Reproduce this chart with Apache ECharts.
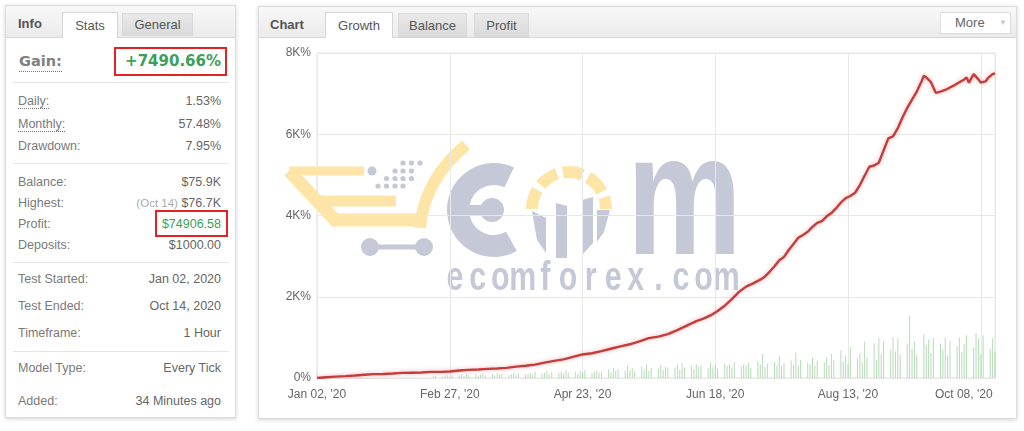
<!DOCTYPE html>
<html>
<head>
<meta charset="utf-8">
<script src="https://cdn.jsdelivr.net/npm/echarts@6/dist/echarts.min.js"></script>
<style>
  html,body{margin:0;padding:0;background:#fff;width:1024px;height:431px;overflow:hidden;font-family:"Liberation Sans",Arial,sans-serif;}
  .abs{position:absolute;}
  .panel{position:absolute;border:1px solid #dcdcdc;background:#fff;box-shadow:0 1px 4px rgba(0,0,0,0.18);box-sizing:border-box;}
  .hdr{position:absolute;background:linear-gradient(#f8f8f8,#ebebeb);border-bottom:1px solid #d6d6d6;box-sizing:border-box;}
  .tab{position:absolute;box-sizing:border-box;text-align:center;font-size:13px;color:#555;}
  .tab.on{background:#fff;border:1px solid #d6d6d6;border-bottom:none;}
  .tab.off{background:linear-gradient(#e9e9e9,#dadada);border:1px solid #d9d9d9;}
  .ttl{position:absolute;font-weight:bold;font-size:13px;color:#555;}
  .lbl{position:absolute;left:18px;font-size:12.5px;color:#7a7a7a;line-height:16px;}
  .val{position:absolute;right:803px;font-size:12.5px;color:#666;line-height:16px;text-align:right;white-space:nowrap;}
  .dot{border-bottom:1px dotted #777;}
  .sep{position:absolute;left:13px;width:216px;height:1px;background:#e6e6e6;}
  #chart{position:absolute;left:0;top:0;width:1024px;height:431px;}
</style>
</head>
<body>
<!-- left info panel -->
<div class="panel" style="left:5px;top:5px;width:231px;height:413px;"></div>
<div class="hdr" style="left:6px;top:6px;width:229px;height:32px;"></div>
<div class="ttl" style="left:18px;top:16px;">Info</div>
<div class="tab on" style="left:62px;top:12px;width:56px;height:26px;line-height:25px;">Stats</div>
<div class="tab off" style="left:122px;top:13px;width:71px;height:23px;line-height:22px;">General</div>

<div class="abs" style="left:19px;top:52px;font-family:'DejaVu Sans',sans-serif;font-size:14.5px;font-weight:bold;color:#808080;line-height:18px;"><span class="dot" style="padding-bottom:2px;">Gain:</span></div>
<div class="abs" style="left:114px;top:47px;width:113px;height:29px;border:2px solid #e32222;box-sizing:border-box;"></div>
<div class="abs" style="right:803px;top:52px;font-family:'DejaVu Sans',sans-serif;font-size:15px;font-weight:bold;color:#3c9f5c;line-height:18px;">+7490.66%</div>
<div class="sep" style="top:82px;"></div>

<div class="lbl" style="top:93px;"><span class="dot">Daily:</span></div><div class="val" style="top:93px;">1.53%</div>
<div class="lbl" style="top:116px;"><span class="dot">Monthly:</span></div><div class="val" style="top:116px;">57.48%</div>
<div class="lbl" style="top:138px;">Drawdown:</div><div class="val" style="top:138px;">7.95%</div>
<div class="sep" style="top:163px;"></div>

<div class="lbl" style="top:174px;">Balance:</div><div class="val" style="top:174px;">$75.9K</div>
<div class="lbl" style="top:195px;">Highest:</div><div class="val" style="top:195px;"><span style="color:#aaa;font-size:11.5px;">(Oct 14)</span> $76.7K</div>
<div class="lbl" style="top:216px;">Profit:</div>
<div class="abs" style="left:155px;top:210px;width:73px;height:27px;border:2px solid #e32222;box-sizing:border-box;"></div>
<div class="val" style="top:216px;color:#3c9f5c;">$74906.58</div>
<div class="lbl" style="top:237px;">Deposits:</div><div class="val" style="top:237px;">$1000.00</div>
<div class="sep" style="top:262px;"></div>

<div class="lbl" style="top:271px;">Test Started:</div><div class="val" style="top:271px;">Jan 02, 2020</div>
<div class="lbl" style="top:298px;">Test Ended:</div><div class="val" style="top:298px;">Oct 14, 2020</div>
<div class="lbl" style="top:325px;">Timeframe:</div><div class="val" style="top:325px;">1 Hour</div>
<div class="sep" style="top:351px;"></div>

<div class="lbl" style="top:360px;">Model Type:</div><div class="val" style="top:360px;">Every Tick</div>
<div class="lbl" style="top:393px;">Added:</div><div class="val" style="top:393px;">34 Minutes ago</div>

<!-- chart panel -->
<div class="panel" style="left:258px;top:6px;width:759px;height:413px;"></div>
<div class="hdr" style="left:259px;top:7px;width:757px;height:31px;"></div>
<div class="ttl" style="left:270px;top:17px;">Chart</div>
<div class="tab on" style="left:325px;top:12px;width:68px;height:26px;line-height:26px;">Growth</div>
<div class="tab off" style="left:398px;top:13px;width:69px;height:24px;line-height:23px;">Balance</div>
<div class="tab off" style="left:474px;top:13px;width:55px;height:24px;line-height:23px;">Profit</div>
<div class="abs" style="left:940px;top:12px;width:71px;height:22px;background:#fff;border:1px solid #dedede;box-sizing:border-box;font-size:13px;color:#666;line-height:20px;">
  <span style="position:absolute;left:14px;">More</span>
  <span style="position:absolute;left:58px;top:0px;font-size:8px;color:#c8c8c8;">&#9660;</span>
</div>

<div id="chart"></div>
<script>
// ---- data ----
const xTickLabels = ["Jan 02, '20", "Feb 27, '20", "Apr 23, '20", "Jun 18, '20", "Aug 13, '20", "Oct 08, '20"];
const yTickLabels = ["0%", "2K%", "4K%", "6K%", "8K%"];
// growth line: day offsets from Jan 02, 2020 and growth in %
const growthDays = [0,4,8,12,16,20,24,28,32,36,40,44,48,52,56,60,64,68,72,76,80,84,88,92,96,100,104,108,112,116,120,124,128,132,136,140,144,148,152,156,160,163,166,169,172,175,178,181,184,187,189,191,193,195,197,199,201,203,205,207,209,211,213,215,217,219,221,223,225,227,229,231,233,235,237,239,241,243,245,247,249,251,253,255,256,257,259,261,263,265,267,269,271,273,274,275,277,279,280,282,283,285,286];
const growthValues = [0,20,35,45,60,80,95,100,110,125,130,135,150,150,160,185,200,210,225,235,250,280,300,330,380,420,460,520,580,610,660,720,780,830,900,980,1020,1080,1180,1290,1400,1460,1540,1650,1780,1940,2120,2250,2330,2420,2500,2620,2750,2900,2980,3150,3300,3450,3520,3600,3720,3820,3860,3980,4060,4180,4320,4430,4480,4560,4750,4980,5200,5230,5300,5600,5900,5950,6150,6420,6650,6850,7050,7300,7440,7400,7280,7020,7050,7090,7150,7210,7280,7350,7400,7270,7480,7350,7270,7300,7380,7480,7500];
// daily profit bars (weekdays from Feb 20, 2020), scaled to the same axis
const barsFeb = [40,60,30,50,70,40,60];
const barsMar = [60,80,50,90,70,100,60,80,110,70,90,60,120,80,100,70,90,130,80,110,90,100];
const barsApr = [120,90,150,110,130,170,100,140,120,160,110,190,130,150,100,170,140,200,120,160,180,130];
const barsMay = [160,210,140,250,180,220,170,300,190,240,160,280,210,330,180,250,230,310,200,270,240];
const barsJun = [250,330,200,370,260,300,220,350,280,310,240,380,270,320,230,360,300,340,250,390,280,330];
const barsJul = [300,380,250,420,330,600,280,350,400,310,550,290,370,430,320,620,300,450,380,340,500,310,420];
const barsAug = [380,520,320,600,450,680,400,560,350,750,480,620,380,900,520,860,450,1000,600,900,700];
const barsSep = [1000,650,980,580,850,1520,720,900,560,1080,800,950,620,980,850,700,1000,550,920,780,1000,640];
const barsOct = [850,1050,760,1100,980,600,1050,720,980,650];
const barsStartDay = 49; // Feb 20, 2020 (Thursday)

// ---- build ----
const lineData = growthDays.map((d, i) => [d, growthValues[i]]);
const allBars = [].concat(barsFeb, barsMar, barsApr, barsMay, barsJun, barsJul, barsAug, barsSep, barsOct);
const barData = [];
{
  let day = barsStartDay, idx = 0;
  // Jan 02, 2020 was a Thursday -> weekday index (0=Mon) is 3
  while (idx < allBars.length) {
    const wd = (day + 3) % 7;
    if (wd < 5) { barData.push([day, allBars[idx]]); idx++; }
    day++;
  }
}

const gray = '#c5c8d7', yel = '#fce5a6';
const wm = [];
// cart (yellow)
wm.push({type:'polyline', z:0, shape:{points:[[289,171],[364,171]]}, style:{stroke:yel, lineWidth:9, fill:null}});
wm.push({type:'polyline', z:0, shape:{points:[[289,171],[335,220],[426,220]]}, style:{stroke:yel, lineWidth:13, fill:null, lineJoin:'miter'}});
wm.push({type:'polyline', z:0, shape:{points:[[314,201],[396,201]]}, style:{stroke:yel, lineWidth:11, fill:null}});
wm.push({type:'bezierCurve', z:0, shape:{x1:420,y1:228,cpx1:424,cpy1:180,x2:466,y2:145}, style:{stroke:yel, lineWidth:12, fill:null}});
// dots
wm.push({type:'circle', z:0, shape:{cx:372,cy:171,r:4.5}, style:{fill:gray}});
[[403,163],[411.5,163],[420,163],[395,171],[403,171],[411.5,171],[386.5,178.5],[395,178.5],[403,178.5],[411.5,178.5],[378,186],[386.5,186],[395,186],[403,186]].forEach(p=>{
  wm.push({type:'circle', z:0, shape:{cx:p[0],cy:p[1],r:2.6}, style:{fill:gray}});
});
// wheels
wm.push({type:'polyline', z:0, shape:{points:[[370,247],[424,247]]}, style:{stroke:gray, lineWidth:5, fill:null}});
wm.push({type:'circle', z:0, shape:{cx:370,cy:247,r:9}, style:{fill:gray}});
wm.push({type:'circle', z:0, shape:{cx:424,cy:247,r:9}, style:{fill:gray}});
// big C with dot
wm.push({type:'sector', z:0, shape:{cx:494,cy:210,r:47,r0:25,startAngle:61*Math.PI/180,endAngle:295*Math.PI/180,clockwise:true}, style:{fill:gray}});
wm.push({type:'polyline', z:0, shape:{points:[[460,210],[492,210]]}, style:{stroke:gray, lineWidth:10, fill:null}});
wm.push({type:'circle', z:0, shape:{cx:492,cy:210,r:12}, style:{fill:gray}});
// ring
wm.push({type:'arc', z:0, shape:{cx:569,cy:209,r:37,startAngle:Math.PI,endAngle:2*Math.PI,clockwise:true}, style:{stroke:yel, lineWidth:12, fill:null, lineDash:[20,6]}});
wm.push({type:'polygon', z:0, shape:{points:[[532,211],[546,218],[546,253],[537,240]]}, style:{fill:gray}});
wm.push({type:'polygon', z:0, shape:{points:[[556,203],[567,206],[567,258],[556,258]]}, style:{fill:gray}});
wm.push({type:'polygon', z:0, shape:{points:[[582,200],[593,197],[593,243],[582,255]]}, style:{fill:gray}});
wm.push({type:'polygon', z:0, shape:{points:[[597,210],[610,210],[604,232],[597,242]]}, style:{fill:gray}});
// m
wm.push({type:'text', z:0, x:627, y:293, scaleX:0.75, style:{text:'m', font:'bold 172px "Liberation Sans", Arial', fill:gray, textAlign:'left', textVerticalAlign:'bottom'}});
// ecomforex.com
'ecomforex.com'.split('').forEach((c,i)=>{
  wm.push({type:'text', z:0, x:455 + i*22.6, y:279, scaleX:0.74, style:{text:c, font:'bold 41px "Liberation Sans", Arial', fill:gray, textAlign:'center', textVerticalAlign:'middle'}});
});

const chart = echarts.init(document.getElementById('chart'), null, {renderer:'canvas'});
chart.setOption({
  backgroundColor:'transparent',
  animation:false,
  graphic: wm,
  grid:{left:317, top:53, width:678, height:325, show:true, borderColor:'#e4e4e4', borderWidth:1, backgroundColor:'transparent'},
  xAxis:{
    type:'value', min:0, max:286, interval:56,
    axisLine:{show:false}, axisTick:{show:false},
    splitLine:{show:true, lineStyle:{color:'#e8e8e8'}},
    axisLabel:{
      color:'#666', fontSize:12, fontFamily:'"Liberation Sans", Arial', margin:11, showMaxLabel:false,
      formatter:function(v){
        if (v % 56 !== 0) return '';
        const t = xTickLabels[v/56];
        if (v/56 === xTickLabels.length-1) return '{r|' + t + '}';
        return t;
      },
      rich:{r:{color:'#666', fontSize:12, fontFamily:'"Liberation Sans", Arial', padding:[0,34,0,0]}}
    }
  },
  yAxis:{
    type:'value', min:0, max:8000, interval:2000,
    axisLine:{show:false}, axisTick:{show:false},
    splitLine:{show:true, lineStyle:{color:'#e8e8e8'}},
    axisLabel:{color:'#666', fontSize:12, fontFamily:'"Liberation Sans", Arial', margin:6,
      formatter:function(v){ return yTickLabels[v/2000]; }}
  },
  series:[
    {type:'bar', data:barData, barWidth:1, z:2, itemStyle:{color:'rgba(150,205,150,0.7)'}, silent:true},
    {type:'line', data:lineData, symbol:'none', z:3, smooth:false,
     lineStyle:{color:'#c53c3c', width:2.4, shadowColor:'rgba(220,80,80,0.45)', shadowBlur:4}}
  ]
});
</script>
</body>
</html>
